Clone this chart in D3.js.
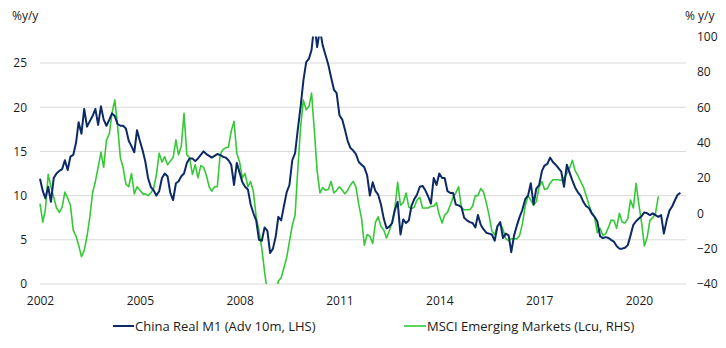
<!DOCTYPE html>
<html>
<head>
<meta charset="utf-8">
<script src="https://cdn.jsdelivr.net/npm/d3@7"></script>
<style>
  html, body { margin: 0; padding: 0; background: #fff; }
  svg { display: block; font-family: "Open Sans", "Noto Sans", sans-serif; }
</style>
</head>
<body>
<svg id="chart" width="726" height="348"></svg>
<script>
// Monthly series, first observation January 2002
const seriesStart = new Date(2002, 0, 1);

// China Real M1, advanced 10 months (% y/y, left axis)
const chinaRealM1 = [
  11.9,10.5,9.7,11.0,9.3,12.0,12.5,12.8,13.0,14.0,12.9,14.4,
  14.6,16.0,18.3,17.0,19.8,17.8,18.4,19.0,19.8,18.0,20.1,18.6,
  17.9,18.6,19.3,19.0,18.1,17.9,17.9,17.6,16.2,15.6,14.9,17.4,
  16.2,15.1,13.9,12.0,11.0,10.6,10.0,10.5,12.0,12.5,12.2,10.3,
  9.5,11.4,11.6,12.2,12.5,13.7,14.2,14.2,13.9,14.2,14.6,15.0,
  14.7,14.5,14.3,14.5,14.7,14.6,14.4,14.3,14.0,13.5,11.2,13.7,
  12.6,11.5,11.0,10.7,9.0,8.0,7.2,5.0,4.9,6.4,6.0,3.5,
  4.0,5.4,7.6,7.2,8.8,10.4,11.2,14.0,14.8,17.5,20.1,23.0,
  25.1,25.5,26.5,29.5,26.8,28.8,27.0,25.9,24.8,23.4,22.0,21.6,
  19.1,18.6,17.5,16.2,15.4,15.1,14.7,13.8,13.5,13.2,12.3,10.0,
  11.5,10.5,10.1,9.0,7.4,6.3,6.5,6.9,8.4,9.3,5.6,7.3,
  6.9,7.2,8.8,9.6,10.1,11.0,11.1,10.6,9.9,9.1,12.0,11.2,
  12.5,12.0,12.0,10.5,10.3,10.3,9.0,8.9,8.7,7.5,7.2,7.0,
  6.9,6.4,7.8,6.7,6.2,5.8,5.7,5.6,4.9,6.5,7.0,5.2,
  5.7,5.5,3.6,5.5,6.6,7.6,8.4,9.6,10.0,11.4,9.0,10.8,
  11.2,12.8,13.4,13.6,14.3,13.8,13.5,13.1,12.7,11.0,13.5,12.6,
  11.7,10.9,10.4,10.0,9.3,8.8,8.6,8.0,7.6,7.1,5.4,5.2,
  5.3,5.2,5.0,4.8,4.3,4.0,4.0,4.1,4.4,5.5,6.7,7.1,
  7.4,7.7,8.1,8.0,7.8,8.0,7.8,7.6,7.8,5.7,7.2,8.3,
  8.8,9.5,10.1,10.3
];

// MSCI Emerging Markets, local currency (% y/y, right axis)
const msciEM = [
  5.5,-5,2,22,15,9,3,0.5,3.5,12,8.5,4.5,
  -9.5,-13,-18,-24.5,-21,-13,-2.5,11.5,18,26,34.5,26,
  41.5,45,56.5,64,50,31.5,26,16.5,15,22.5,11,15,
  13,11,11,10,11.5,14,21.5,34,29,32,27.5,29.5,
  31.5,41.5,33,38,56.5,33,31.5,22,27.5,20,27,26,
  21.5,15,12.5,15,15,33,36,37,37.5,46.5,52,34,
  29,20,22.5,15,18,12,-2,-10,-20,-33,-45,-52.5,
  -52,-45,-38.5,-36.5,-31,-25,-16,-7,-1,25,49,64,
  58.5,60.5,68,46.5,24,11.5,14.5,13,13.5,18,11.5,13,
  15,13,11,13,16,18,15,5,-3,-18,-12,-13,
  -17,-5,-2,-7.5,-9.5,-14,-10,-5,3,17.5,4.5,6,
  11.5,3.5,2.5,3.5,7.5,9,3,3,3,4,4,6,
  -1,-5.5,-1,0.5,4.5,9,11.5,15,3,2,2,2,
  4,10,10,14,12,6,-1,-10,-12,-7,-6,-9,
  -14.5,-15.5,-14.5,-14.5,-14.5,-12.5,-6,4,10,7.5,4.5,6.5,
  15,18,13.5,14,17,19,19,19,18.5,20,22.5,25.5,
  30,24,21.5,18,15,10,5,0.5,-2,-11,-8.5,-12.5,
  -11.5,-8,-4,-4,-8.5,0,-5,-5.5,-3,7.5,3,17,
  5,-6,-18.5,-13.5,-4,-2.5,0,9.5
];

// Axis ticks and labels
const leftTicks = [0, 5, 10, 15, 20, 25];
const rightTicks = [-40, -20, 0, 20, 40, 60, 80, 100];
const yearTicks = [2002, 2005, 2008, 2011, 2014, 2017, 2020];
const leftDomain = [0, 28];
const rightDomain = [-40, 100];
const leftTitle = "%y/y";
const rightTitle = "% y/y";
const seriesNames = ["China Real M1 (Adv 10m, LHS)", "MSCI Emerging Markets (Lcu, RHS)"];
const seriesColors = ["#0b2a66", "#35c935"];

const svg = d3.select("#chart");
const plot = { left: 40, right: 686, top: 36.5, bottom: 284 };

const x = d3.scaleTime()
  .domain([seriesStart, new Date(2021, 5, 1)])
  .range([plot.left, plot.right]);
const yL = d3.scaleLinear().domain(leftDomain).range([plot.bottom, plot.top]);
const yR = d3.scaleLinear().domain(rightDomain).range([plot.bottom, plot.top]);

const monthDate = i => d3.timeMonth.offset(seriesStart, i);

// Horizontal gridlines at the left-axis ticks
svg.append("g")
  .selectAll("line")
  .data(leftTicks)
  .join("line")
  .attr("x1", plot.left)
  .attr("x2", plot.right)
  .attr("y1", d => yL(d))
  .attr("y2", d => yL(d))
  .attr("stroke", "#d9d9d9")
  .attr("stroke-width", 1);

// Left axis labels
const leftAxis = svg.append("g")
  .attr("transform", `translate(27,0)`)
  .call(d3.axisLeft(yL).tickValues(leftTicks).tickSize(0).tickPadding(0));
leftAxis.select(".domain").remove();

// Right axis labels
const rightAxis = svg.append("g")
  .attr("transform", `translate(697,0)`)
  .call(d3.axisRight(yR).tickValues(rightTicks).tickSize(0).tickPadding(0));
rightAxis.select(".domain").remove();

// Bottom axis labels (years)
const bottomAxis = svg.append("g")
  .attr("transform", `translate(0,${plot.bottom + 12})`)
  .call(d3.axisBottom(x)
    .tickValues(yearTicks.map(yy => new Date(yy, 0, 1)))
    .tickFormat(d3.timeFormat("%Y"))
    .tickSize(0).tickPadding(0));
bottomAxis.select(".domain").remove();

svg.selectAll(".tick text")
  .attr("font-family", "\"Open Sans\", \"Noto Sans\", sans-serif")
  .attr("font-size", 12)
  .attr("fill", "#1a1a1a");

// Axis titles
svg.append("text").attr("x", 12).attr("y", 20)
  .attr("font-size", 12).attr("fill", "#1a1a1a").text(leftTitle);
svg.append("text").attr("x", 685).attr("y", 20)
  .attr("font-size", 12).attr("fill", "#1a1a1a").text(rightTitle);

// Clip lines to the plotting area
svg.append("clipPath").attr("id", "plot-clip")
  .append("rect")
  .attr("x", plot.left - 2).attr("y", plot.top)
  .attr("width", plot.right - plot.left + 4)
  .attr("height", plot.bottom - plot.top);

const lines = svg.append("g").attr("clip-path", "url(#plot-clip)");

const lineL = d3.line().x((d, i) => x(monthDate(i))).y(d => yL(d));
const lineR = d3.line().x((d, i) => x(monthDate(i))).y(d => yR(d));

lines.append("path")
  .datum(msciEM)
  .attr("d", lineR)
  .attr("fill", "none")
  .attr("stroke", seriesColors[1])
  .attr("stroke-width", 1.6)
  .attr("stroke-linejoin", "round");

lines.append("path")
  .datum(chinaRealM1)
  .attr("d", lineL)
  .attr("fill", "none")
  .attr("stroke", seriesColors[0])
  .attr("stroke-width", 2)
  .attr("stroke-linejoin", "round");

// Legend
const legendItems = [
  { x: 113, len: 21, name: seriesNames[0], color: seriesColors[0], width: 2 },
  { x: 404, len: 22, name: seriesNames[1], color: seriesColors[1], width: 1.6 }
];
const legend = svg.append("g").selectAll("g").data(legendItems).join("g")
  .attr("transform", d => `translate(${d.x},326)`);
legend.append("line")
  .attr("x1", 0).attr("x2", d => d.len).attr("y1", 0).attr("y2", 0)
  .attr("stroke", d => d.color).attr("stroke-width", d => d.width);
legend.append("text")
  .attr("x", d => d.len + 1).attr("y", 4.5)
  .attr("font-size", 13).attr("fill", "#1a1a1a")
  .text(d => d.name);
</script>
</body>
</html>
